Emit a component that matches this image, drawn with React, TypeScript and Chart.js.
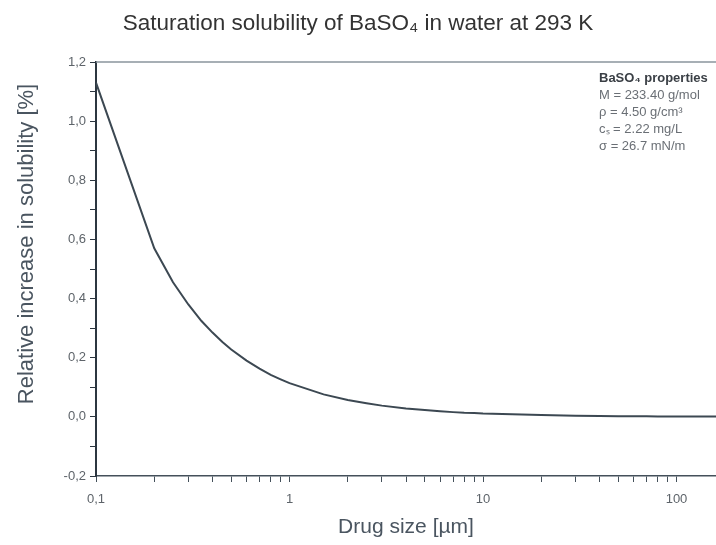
import React, { useEffect, useRef } from "react";
import { Chart, registerables } from "chart.js";

Chart.register(...registerables);

// ---- data ----
const sizes = [0.1, 0.2, 0.25, 0.3, 0.35, 0.4, 0.45, 0.5, 0.6, 0.7, 0.8, 0.9, 1, 1.5, 2, 2.5, 3, 4, 5, 6, 7, 8, 9, 10, 20, 30, 40, 50, 60, 70, 80, 90, 100, 200];
const increase = [1.13, 0.57, 0.455, 0.38, 0.325, 0.285, 0.253, 0.228, 0.19, 0.163, 0.142, 0.127, 0.114, 0.076, 0.057, 0.046, 0.038, 0.028, 0.023, 0.019, 0.016, 0.014, 0.013, 0.011, 0.006, 0.004, 0.003, 0.002, 0.002, 0.002, 0.001, 0.001, 0.001, 0.001];

const xMajorValues = [0.1, 1, 10, 100];
const xMajorLabels = ["0,1", "1", "10", "100"];
const xMinorValues = [
  0.2, 0.3, 0.4, 0.5, 0.6, 0.7, 0.8, 0.9,
  2, 3, 4, 5, 6, 7, 8, 9,
  20, 30, 40, 50, 60, 70, 80, 90,
];
const xMin = 0.1;
const xMax = 160;

const yMin = -0.2;
const yMax = 1.2;
const yMajorValues = [-0.2, 0, 0.2, 0.4, 0.6, 0.8, 1.0, 1.2];
const yMajorLabels = ["-0,2", "0,0", "0,2", "0,4", "0,6", "0,8", "1,0", "1,2"];

const titleText = "Saturation solubility of BaSO\u2084 in water at 293 K";
const xTitle = "Drug size [\u00b5m]";
const yTitle = "Relative increase in solubility [%]";

const boxHeader = "BaSO\u2084 properties";
const boxLines = ["M = 233.40 g/mol", "\u03c1 = 4.50 g/cm\u00b3", "c\u209b = 2.22 mg/L", "\u03c3 = 26.7 mN/m"];

const FONT = "'Liberation Sans', Arial, sans-serif";

const framePlugin = {
  id: "frame",
  afterDraw(chart: any) {
    const { ctx, chartArea } = chart;
    ctx.save();
    // top border
    ctx.strokeStyle = "#8a949c";
    ctx.lineWidth = 1.5;
    ctx.beginPath();
    ctx.moveTo(chartArea.left, chartArea.top);
    ctx.lineTo(chartArea.right, chartArea.top);
    ctx.stroke();
    // y-axis title
    ctx.save();
    ctx.translate(27, 244);
    ctx.rotate(-Math.PI / 2);
    ctx.textAlign = "center";
    ctx.textBaseline = "middle";
    ctx.fillStyle = "#4a5560";
    ctx.font = `22px ${FONT}`;
    ctx.fillText(yTitle, 0, 0);
    ctx.restore();
    // properties box
    const x = chartArea.right - 117;
    let y = chartArea.top + 16;
    ctx.textBaseline = "middle";
    ctx.textAlign = "left";
    ctx.fillStyle = "#3a3f45";
    ctx.font = `bold 13px ${FONT}`;
    ctx.fillText(boxHeader, x, y);
    ctx.fillStyle = "#6a6f75";
    ctx.font = `13px ${FONT}`;
    for (const line of boxLines) {
      y += 17;
      ctx.fillText(line, x, y);
    }
    ctx.restore();
  },
};

export default function App() {
  const ref = useRef<HTMLCanvasElement>(null);
  useEffect(() => {
    const canvas = ref.current!;
    const chart = new Chart(canvas, {
      type: "line",
      data: {
        datasets: [
          {
            data: sizes.map((s, i) => ({ x: s, y: increase[i] })),
            borderColor: "#3c4852",
            borderWidth: 2,
            pointRadius: 0,
            tension: 0,
            fill: false,
          },
        ],
      },
      options: {
        responsive: false,
        animation: false,
        layout: { padding: { left: 0, right: 0, top: 0, bottom: 0 } },
        plugins: {
          legend: { display: false },
          tooltip: { enabled: false },
          title: {
            display: true,
            text: titleText,
            color: "#333",
            font: { family: FONT, size: 22.5, weight: "normal" },
            padding: { top: 10, bottom: 25 },
          },
        },
        scales: {
          x: {
            type: "logarithmic",
            min: xMin,
            max: xMax,
            afterBuildTicks(scale: any) {
              const vals = [...xMajorValues, ...xMinorValues].sort((a, b) => a - b);
              scale.ticks = vals.map((v) => ({ value: v, major: xMajorValues.includes(v) }));
            },
            afterFit(scale: any) {
              scale.height = 69;
            },
            ticks: {
              autoSkip: false,
              maxRotation: 0,
              padding: 10,
              color: "#5e646a",
              font: { family: FONT, size: 13 },
              callback(value: any) {
                const idx = xMajorValues.findIndex((v) => Math.abs(v - value) < 1e-9);
                return idx >= 0 ? xMajorLabels[idx] : "";
              },
            },
            grid: {
              drawOnChartArea: false,
              tickLength: 6,
              tickColor: "#44505a",
            },
            border: { color: "#44505a", width: 1.5 },
            title: {
              display: true,
              text: xTitle,
              color: "#4a5560",
              font: { family: FONT, size: 21 },
              padding: { top: 0, bottom: 5 },
            },
          },
          y: {
            type: "linear",
            min: yMin,
            max: yMax,
            afterBuildTicks(scale: any) {
              const t = [];
              for (let i = -2; i <= 12; i++) t.push({ value: i / 10 });
              scale.ticks = t;
            },
            afterFit(scale: any) {
              scale.width = 96;
            },
            ticks: {
              autoSkip: false,
              padding: 4,
              color: "#5e646a",
              font: { family: FONT, size: 13 },
              callback(value: any) {
                const idx = yMajorValues.findIndex((v) => Math.abs(v - value) < 1e-9);
                return idx >= 0 ? yMajorLabels[idx] : "";
              },
            },
            grid: {
              drawOnChartArea: false,
              tickLength: 6,
              tickColor: "#2c3640",
            },
            border: { color: "#2c3640", width: 2 },
          },
        },
      },
      plugins: [framePlugin],
    });
    return () => chart.destroy();
  }, []);
  return (
    <div style={{ position: "absolute", left: 0, top: 0, width: 716, height: 545 }}>
      <canvas ref={ref} width={716} height={545} style={{ display: "block" }} />
    </div>
  );
}
